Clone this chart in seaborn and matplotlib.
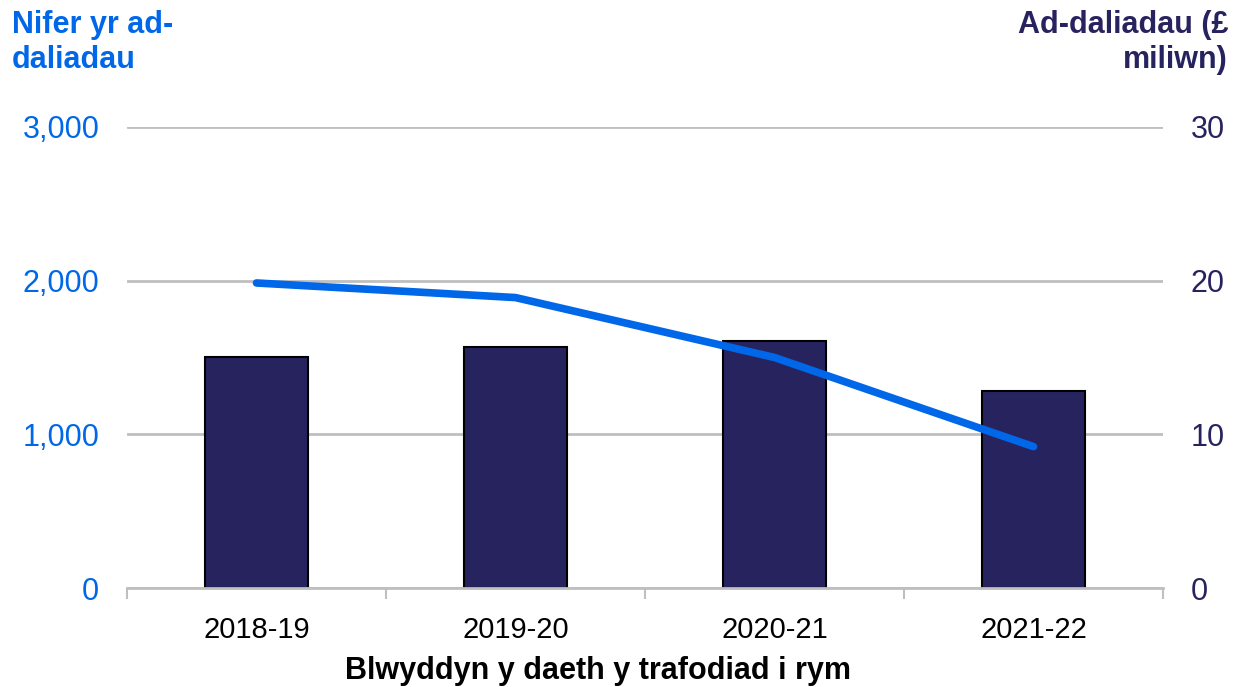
import matplotlib
matplotlib.use("Agg")
import matplotlib.pyplot as plt
import seaborn as sns
import pandas as pd
from matplotlib.ticker import FuncFormatter, FixedLocator

sns.set_style("white")
plt.rcParams['font.family'] = ['Liberation Sans', 'DejaVu Sans']

years = ["2018-19", "2019-20", "2020-21", "2021-22"]
refunds_m = [15.0, 15.7, 16.1, 12.8]        # £ million (bars, right axis)
refund_counts = [1985, 1890, 1500, 920]     # number of refunds (line, left axis)

left_ticks = [0, 1000, 2000, 3000]
right_ticks = [0, 10, 20, 30]

BLUE = "#0068E8"
NAVY = "#27235F"
GRID = "#BFBFBF"

df = pd.DataFrame({"year": years, "amount": refunds_m, "count": refund_counts})

fig = plt.figure(figsize=(12.34, 6.87), dpi=100)
ax = fig.add_axes([127/1234, 1-588/687, (1163-127)/1234, (588-127)/687])
ax2 = ax.twinx()

# bars on right axis (below)
sns.barplot(data=df, x="year", y="amount", ax=ax2, color=NAVY, saturation=1,
            width=0.4, edgecolor="black", linewidth=1.5, zorder=3)
ax2.set_ylim(0, 30)
ax2.yaxis.set_major_locator(FixedLocator(right_ticks))
ax2.grid(axis="y", color=GRID, linewidth=2, zorder=0)
ax2.set_axisbelow(True)

# line on left axis (on top)
sns.lineplot(data=df, x="year", y="count", ax=ax, color=BLUE, linewidth=5.5,
             solid_capstyle="round", zorder=5)
ax.set_ylim(0, 3000)
ax.yaxis.set_major_locator(FixedLocator(left_ticks))
ax.yaxis.set_major_formatter(FuncFormatter(lambda v, p: f"{int(v):,}"))
ax.set_xlim(-0.5, 3.5)
ax.grid(False)

ax.set_zorder(ax2.get_zorder() + 1)
ax.patch.set_visible(False)

for a in (ax, ax2):
    for s in a.spines.values():
        s.set_visible(False)
    a.set_xlabel("")
    a.set_ylabel("")

ax2.spines["bottom"].set_visible(True)
ax2.spines["bottom"].set_color(GRID)
ax2.spines["bottom"].set_linewidth(2)
ax2.spines["bottom"].set_zorder(4)

ax.tick_params(axis="y", labelsize=22, colors=BLUE, length=0, pad=20)
ax2.tick_params(axis="y", labelsize=22, colors=NAVY, length=0, pad=20)
ax.tick_params(axis="x", which="major", bottom=True, labelbottom=True, labelsize=21,
               labelcolor="black", length=0, pad=20)

ax.xaxis.set_minor_locator(FixedLocator([-0.5, 0.5, 1.5, 2.5, 3.5]))
ax.tick_params(axis="x", which="minor", bottom=True, length=8, width=1.5,
               color=GRID, direction="out")

fig.text(12/1234, 1-10/687, "Nifer yr ad-\ndaliadau", color=BLUE, fontsize=22,
         fontweight="bold", ha="left", va="top", linespacing=1.2)
fig.text(1228/1234, 1-10/687, "Ad-daliadau (£\nmiliwn)", color=NAVY, fontsize=22,
         fontweight="bold", ha="right", va="top", linespacing=1.2, multialignment="right")
fig.text(598/1234, 1-679/687, "Blwyddyn y daeth y trafodiad i rym", color="black",
         fontsize=22, fontweight="bold", ha="center", va="baseline")

fig.savefig("out.png", dpi=100)
